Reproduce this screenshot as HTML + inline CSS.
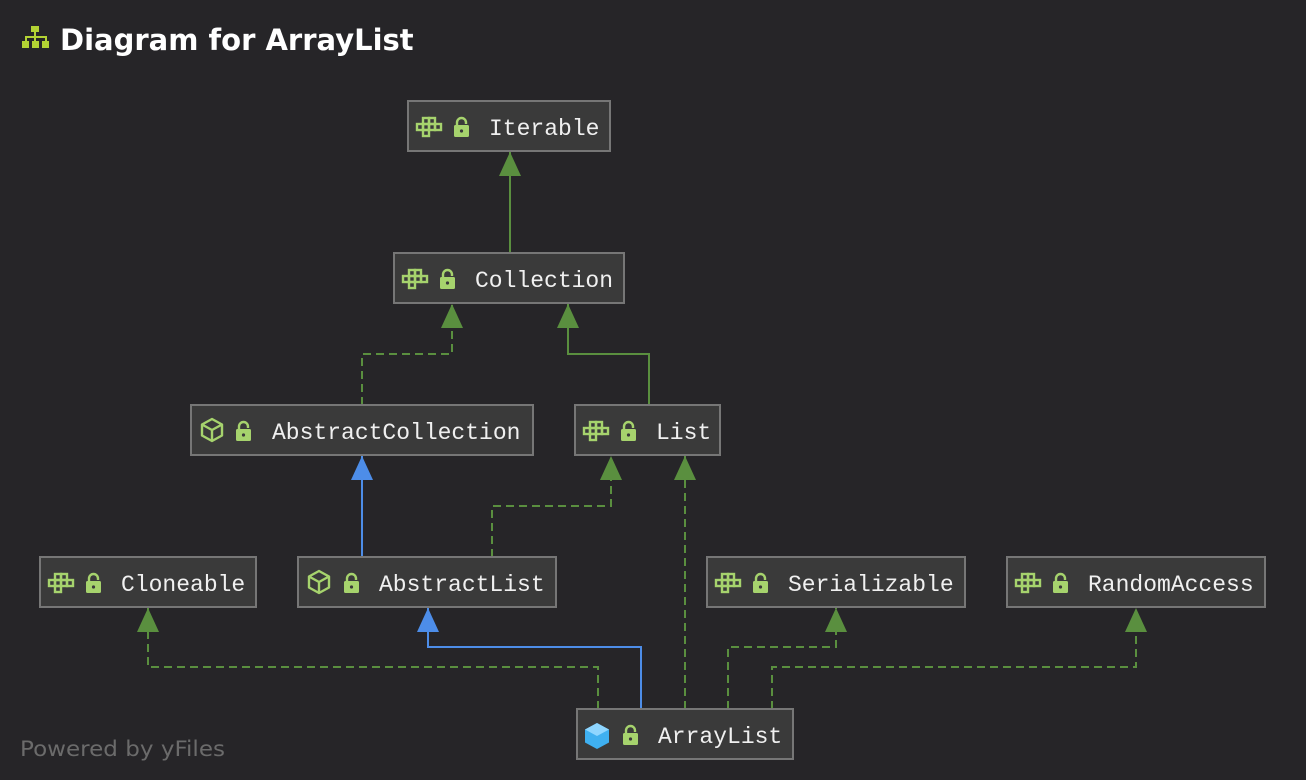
<!DOCTYPE html>
<html><head><meta charset="utf-8"><style>
html,body{margin:0;padding:0;background:#262528;}
svg{display:block}
text.n{font-family:"Liberation Mono","DejaVu Sans Mono",monospace;font-size:23px;fill:#f0f0f0}
</style></head><body>
<svg width="1306" height="780" viewBox="0 0 1306 780" xmlns="http://www.w3.org/2000/svg">
<defs>
<g id="ifc" fill="none" stroke="#a6d36d" stroke-width="2.4">
 <rect x="9" y="1" width="6" height="6"/><rect x="15" y="1" width="6" height="6"/>
 <rect x="3" y="7" width="6" height="6"/><rect x="9" y="7" width="6" height="6"/><rect x="15" y="7" width="6" height="6"/><rect x="21" y="7" width="6" height="6"/>
 <rect x="9" y="13" width="6" height="6"/>
</g>
<g id="lock">
 <path d="M3 9 V5.5 a4.5 4.5 0 0 1 9 0 V7" fill="none" stroke="#a6d36d" stroke-width="2.4"/>
 <rect x="0" y="8" width="15" height="12" rx="1.5" fill="#a6d36d"/>
 <circle cx="7.5" cy="14" r="1.6" fill="#3a3a3a"/>
</g>
<g id="cls" fill="none" stroke="#a6d36d" stroke-width="2.4" stroke-linejoin="round">
 <path d="M12 1 L22 6.5 V17.5 L12 23 L2 17.5 V6.5 Z"/><path d="M2 6.5 L12 12 L22 6.5 M12 12 V23"/>
</g>
<marker id="ag" markerWidth="22" markerHeight="24" refX="11" refY="0" orient="0" markerUnits="userSpaceOnUse"><path d="M0 24 L11 0 L22 24 Z" fill="#5a8f3f"/></marker>
<marker id="ab" markerWidth="22" markerHeight="24" refX="11" refY="0" orient="0" markerUnits="userSpaceOnUse"><path d="M0 24 L11 0 L22 24 Z" fill="#4d8de8"/></marker>
</defs>

<!-- title -->
<g fill="#b3d234">
 <rect x="31" y="26" width="8" height="6"/><rect x="34" y="32" width="2" height="5"/>
 <rect x="25" y="36" width="22" height="2"/><rect x="25" y="36" width="2" height="5"/><rect x="34" y="36" width="2" height="5"/><rect x="45" y="36" width="2" height="5"/>
 <rect x="22" y="41" width="7" height="7"/><rect x="32" y="41" width="7" height="7"/><rect x="42" y="41" width="7" height="7"/>
</g>
<text x="60" y="50" font-family="'DejaVu Sans','Liberation Sans',sans-serif" font-weight="bold" font-size="29" fill="#ffffff">Diagram for ArrayList</text>
<text x="20" y="756" font-family="'DejaVu Sans','Liberation Sans',sans-serif" font-size="21" fill="#6b6b6b" textLength="205" lengthAdjust="spacingAndGlyphs">Powered by yFiles</text>

<!-- edges -->
<g fill="none" stroke-width="2">
 <path d="M510 253 V152" stroke="#5a8f3f" marker-end="url(#ag)"/>
 <path d="M362 405 V354 H452 V304" stroke="#5a8f3f" stroke-dasharray="8,5" marker-end="url(#ag)"/>
 <path d="M649 405 V354 H568 V304" stroke="#5a8f3f" marker-end="url(#ag)"/>
 <path d="M362 557 V456" stroke="#4d8de8" marker-end="url(#ab)"/>
 <path d="M492 557 V506 H611 V456" stroke="#5a8f3f" stroke-dasharray="8,5" marker-end="url(#ag)"/>
 <path d="M685 709 V456" stroke="#5a8f3f" stroke-dasharray="8,5" marker-end="url(#ag)"/>
 <path d="M641 709 V647 H428 V608" stroke="#4d8de8" marker-end="url(#ab)"/>
 <path d="M598 709 V667 H148 V608" stroke="#5a8f3f" stroke-dasharray="8,5" marker-end="url(#ag)"/>
 <path d="M728 709 V647 H836 V608" stroke="#5a8f3f" stroke-dasharray="8,5" marker-end="url(#ag)"/>
 <path d="M772 709 V667 H1136 V608" stroke="#5a8f3f" stroke-dasharray="8,5" marker-end="url(#ag)"/>
</g>

<!-- nodes -->
<g stroke="#767676" stroke-width="2" fill="#3a3a3a">
 <rect x="408" y="101" width="202" height="50"/>
 <rect x="394" y="253" width="230" height="50"/>
 <rect x="191" y="405" width="342" height="50"/>
 <rect x="575" y="405" width="145" height="50"/>
 <rect x="40" y="557" width="216" height="50"/>
 <rect x="298" y="557" width="258" height="50"/>
 <rect x="707" y="557" width="258" height="50"/>
 <rect x="1007" y="557" width="258" height="50"/>
 <rect x="577" y="709" width="216" height="50"/>
</g>

<use href="#ifc" x="414" y="117"/><use href="#lock" x="454" y="117"/><text class="n" x="489" y="135">Iterable</text>
<use href="#ifc" x="400" y="269"/><use href="#lock" x="440" y="269"/><text class="n" x="475" y="287">Collection</text>
<use href="#cls" x="200" y="418"/><use href="#lock" x="236" y="421"/><text class="n" x="272" y="439">AbstractCollection</text>
<use href="#ifc" x="581" y="421"/><use href="#lock" x="621" y="421"/><text class="n" x="656" y="439">List</text>
<use href="#ifc" x="46" y="573"/><use href="#lock" x="86" y="573"/><text class="n" x="121" y="591">Cloneable</text>
<use href="#cls" x="307" y="570"/><use href="#lock" x="344" y="573"/><text class="n" x="379" y="591">AbstractList</text>
<use href="#ifc" x="713" y="573"/><use href="#lock" x="753" y="573"/><text class="n" x="788" y="591">Serializable</text>
<use href="#ifc" x="1013" y="573"/><use href="#lock" x="1053" y="573"/><text class="n" x="1088" y="591">RandomAccess</text>
<g>
 <path d="M597 723 L609 729.5 V742.5 L597 749 L585 742.5 V729.5 Z" fill="#3fb0f0"/>
 <path d="M585 729.5 L597 736 L609 729.5 L597 723 Z" fill="#8fd6ff"/>
</g>
<use href="#lock" x="623" y="725"/><text class="n" x="658" y="743">ArrayList</text>
</svg>
</body></html>
